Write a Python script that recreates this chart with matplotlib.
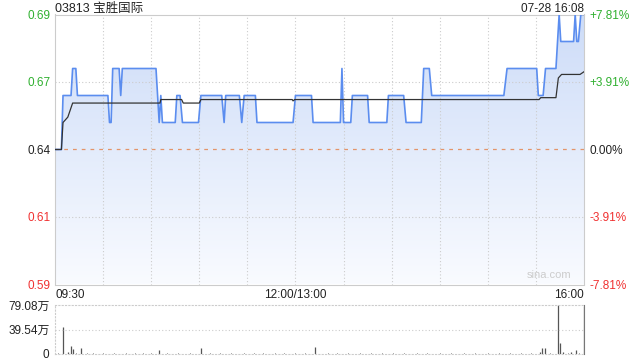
import numpy as np
import matplotlib
matplotlib.use('Agg')
import matplotlib.pyplot as plt
from matplotlib.colors import LinearSegmentedColormap

plt.rcParams['font.family'] = ['Liberation Sans', 'Noto Sans CJK SC', 'DejaVu Sans']

# minute index from 09:30 (0) to 16:00 (330), lunch break removed
price_t = [0, 4, 5, 10, 11, 13, 14, 33, 34, 35, 36, 40, 41, 42, 63, 65, 66, 67,
           75, 76, 78, 79.5, 89.5, 91, 104, 105.5, 106.5, 115, 116.5, 118, 125, 126,
           148.5, 150, 160, 161, 178, 179, 180, 184.5, 185.5, 195, 196, 207, 208,
           217.5, 219, 228.5, 230, 233.5, 235, 280, 282, 300.5, 301.5, 304.5, 306,
           312.5, 314.5, 315.5, 323.5, 324.5, 325.5, 326.5, 328, 330]
price_v = [0.64, 0.64, 0.66, 0.66, 0.67, 0.67, 0.66, 0.66, 0.65, 0.65, 0.67, 0.67, 0.66, 0.67, 0.67, 0.65, 0.66, 0.65,
           0.65, 0.66, 0.66, 0.65, 0.65, 0.66, 0.66, 0.65, 0.66, 0.66, 0.65, 0.66, 0.66, 0.65,
           0.65, 0.66, 0.66, 0.65, 0.65, 0.67, 0.65, 0.65, 0.66, 0.66, 0.65, 0.65, 0.66,
           0.66, 0.65, 0.65, 0.67, 0.67, 0.66, 0.66, 0.67, 0.67, 0.66, 0.66, 0.67,
           0.67, 0.69, 0.68, 0.68, 0.69, 0.68, 0.68, 0.69, 0.69]

avg_t = [0, 4, 5, 8, 11, 65.5, 66, 79, 80, 90, 91, 148, 148.5, 149.5, 302, 303, 312.5, 314, 316, 327.5, 330]
avg_v = [0.64, 0.64, 0.650, 0.652, 0.6572, 0.6572, 0.6585, 0.6585, 0.6572, 0.6572, 0.6585, 0.6585, 0.6580,
         0.6585, 0.6585, 0.6592, 0.6592, 0.6665, 0.6678, 0.6678, 0.6688]

# volume in 万
vol_t = [5, 8, 10, 11, 16.5, 65, 91, 162, 302.5, 304, 305.5, 314, 315, 317, 322, 325, 330]
vol_v = [43, 4, 13, 8, 10, 6, 10, 12, 4, 10, 10, 79.08, 18, 4, 4, 6, 78]
small_t = [2, 13, 20, 24, 30, 37, 44, 50, 55, 60, 70, 77, 84, 97, 103, 110, 118, 124, 130, 137,
           143, 150, 156, 170, 176, 183, 190, 197, 204, 211, 218, 226, 232, 240, 247, 255, 262,
           270, 277, 284, 291, 297, 309, 320, 327]
small_v = [1, 1.5, 1, 1, 1.5, 1, 1, 1.5, 1, 1, 1, 1.5, 1, 1, 1, 1, 1.5, 1, 1, 1,
           1, 1, 1, 1.5, 1, 1, 1, 1, 1.5, 1, 1, 1, 1, 1, 1.5, 1, 1, 1, 1, 1, 1, 1, 1.5, 2, 1.5]

prev_close = 0.64
y_ticks = [0.59, 0.615, 0.64, 0.665, 0.69]
y_labels = ['0.59', '0.61', '0.64', '0.67', '0.69']
pct_labels = ['-7.81%', '-3.91%', '0.00%', '+3.91%', '+7.81%']
tick_colors = ['#f03030', '#f03030', '#222222', '#2fb02f', '#2fb02f']
vol_max = 79.08

fig = plt.figure(figsize=(6.4, 3.6), dpi=100)
ax = fig.add_axes([55/640, 1-284.5/360, 529/640, 270/360])
ax.set_xlim(0, 330)
ax.set_ylim(0.59, 0.69)

# gradient fill under price line
cmap = LinearSegmentedColormap.from_list('fill', ['#f9fbff', '#cddcf8'])
grad = np.linspace(0, 1, 256).reshape(-1, 1)
im = ax.imshow(grad, cmap=cmap, extent=[0, 330, 0.59, 0.69], origin='lower', aspect='auto', zorder=1)
poly = ax.fill_between(price_t, price_v, 0.59, color='none', lw=0)
clip = poly.get_paths()[0]
im.set_clip_path(clip, transform=ax.transData)

for m in range(30, 330, 30):
    ax.axvline(m, color='#cccccc', lw=0.8, ls=(0, (1, 2)), zorder=2)
for y in [0.615, 0.665]:
    ax.axhline(y, color='#cccccc', lw=0.8, ls=(0, (1, 2)), zorder=2)
ax.axhline(prev_close, color='#e3946a', lw=0.9, ls=(0, (3, 4)), zorder=2)

ax.plot(price_t, price_v, color='#5b8def', lw=1.2, zorder=4)
ax.plot(avg_t, avg_v, color='#333333', lw=0.9, zorder=5)

ax.set_yticks(y_ticks)
ax.set_yticklabels(y_labels, fontsize=8.5)
for lab, c in zip(ax.get_yticklabels(), tick_colors):
    lab.set_color(c)
ax.tick_params(axis='both', length=0, pad=3)
ax.set_xticks([0, 150, 330])
ax.set_xticklabels(['09:30', '12:00/13:00', '16:00'], fontsize=8.5, color='#222222')
xl = ax.get_xticklabels()
xl[0].set_ha('left')
xl[2].set_ha('right')
for s in ax.spines.values():
    s.set_color('#cccccc')

ax2 = ax.twinx()
ax2.set_ylim(0.59, 0.69)
ax2.set_yticks(y_ticks)
ax2.set_yticklabels(pct_labels, fontsize=8.5)
for lab, c in zip(ax2.get_yticklabels(), tick_colors):
    lab.set_color(c)
ax2.tick_params(length=0, pad=4)
for s in ax2.spines.values():
    s.set_visible(False)

ax.text(322, 0.5915, 'sina.com', color='#cccccc', fontsize=8, ha='right', va='bottom', zorder=6)

fig.text(55/640, 1-9/360, '03813 宝胜国际', fontsize=9, color='#222222', va='center', ha='left')
fig.text(584/640, 1-9/360, '07-28 16:08', fontsize=8.5, color='#222222', va='center', ha='right')

# volume panel
axv = fig.add_axes([55/640, 1-354/360, 529/640, 49/360])
axv.set_xlim(0, 330)
axv.set_ylim(0, vol_max)
axv.vlines(small_t, 0, small_v, color='#555555', lw=0.7)
axv.vlines(vol_t, 0, vol_v, color='#555555', lw=0.9)
axv.axhline(vol_max / 2, color='#cccccc', lw=0.8, ls=(0, (1, 2)))
axv.set_yticks([0, vol_max / 2, vol_max])
axv.set_yticklabels(['0', '39.54万', '79.08万'], fontsize=8.5, color='#222222')
axv.set_xticks([])
axv.tick_params(length=0, pad=4)
for s in axv.spines.values():
    s.set_color('#cccccc')
    s.set_linestyle((0, (1, 2)))
axv.spines['right'].set_linestyle('-')
axv.spines['right'].set_color('#777777')

fig.savefig('out.png', dpi=100)
